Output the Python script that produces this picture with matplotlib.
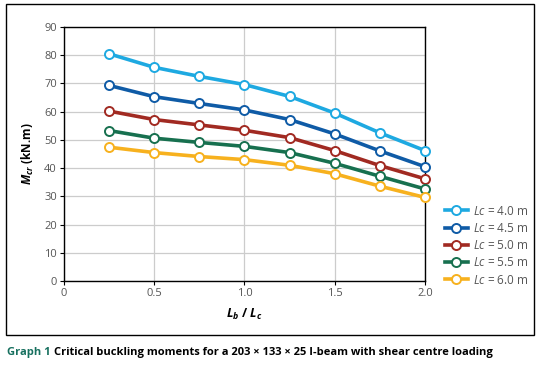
import numpy as np
import matplotlib
matplotlib.use('Agg')
import matplotlib.pyplot as plt
from matplotlib.patches import Rectangle

plt.rcParams['font.family'] = ['Open Sans', 'DejaVu Sans']
plt.rcParams['mathtext.fontset'] = 'custom'
plt.rcParams['mathtext.rm'] = 'Open Sans'
plt.rcParams['mathtext.it'] = 'Open Sans:italic'
plt.rcParams['mathtext.bf'] = 'Open Sans:bold'
plt.rcParams['mathtext.bfit'] = 'Open Sans:italic:bold'

# data
lb_lc = [0.25, 0.5, 0.75, 1.0, 1.25, 1.5, 1.75, 2.0]
lc_labels = ['4.0', '4.5', '5.0', '5.5', '6.0']
m_40 = [80.5, 75.7, 72.5, 69.6, 65.4, 59.5, 52.5, 46.2]
m_45 = [69.3, 65.3, 62.9, 60.6, 57.2, 52.1, 46.1, 40.5]
m_50 = [60.2, 57.2, 55.3, 53.4, 50.8, 46.2, 40.9, 36.2]
m_55 = [53.3, 50.6, 49.1, 47.7, 45.5, 41.7, 37.1, 32.6]
m_60 = [47.4, 45.5, 44.1, 43.0, 41.0, 38.0, 33.6, 29.6]
series = [m_40, m_45, m_50, m_55, m_60]
colors = ['#1ea9e1', '#0f5ba6', '#a12a22', '#17704f', '#f7b11e']

fig = plt.figure(figsize=(5.4, 3.65), dpi=100)

# outer frame around the chart
fig.patches.append(Rectangle((6/540, 1-335/365), 528/540, 331/365, transform=fig.transFigure,
                             fill=False, edgecolor='black', linewidth=1.0))

ax = fig.add_axes([64/540, 1-281/365, 361/540, 254/365])
for vals, c, lab in zip(series, colors, lc_labels):
    ax.plot(lb_lc, vals, color=c, lw=2.6, marker='o', ms=6.5, mfc='white', mec=c, mew=1.4,
            label=r'$\it{Lc}$ = ' + lab + ' m', clip_on=False, zorder=3)

ax.set_xlim(0, 2)
ax.set_ylim(0, 90)
ax.set_xticks([0, 0.5, 1.0, 1.5, 2.0])
ax.set_xticklabels(['0', '0.5', '1.0', '1.5', '2.0'])
ax.set_yticks(np.arange(0, 91, 10))
ax.grid(True, color='#cccccc', lw=0.9)
ax.set_axisbelow(True)
for s in ax.spines.values():
    s.set_color('black')
    s.set_linewidth(1.0)
ax.tick_params(labelsize=8, labelcolor='#555555', length=3, width=0.8, pad=2)

ax.set_ylabel(r'$\mathbfit{M_{cr}}$ (kN.m)', fontsize=8.5, fontweight='bold', labelpad=6)
ax.set_xlabel(r'$\mathbfit{L_b}$ / $\mathbfit{L_c}$', fontsize=9, fontweight='bold', labelpad=6)

ax.legend(loc='upper left', bbox_to_anchor=(434/540, 1-194/365), bbox_transform=fig.transFigure,
          frameon=False, fontsize=8.5, handlelength=2.0, handletextpad=0.4, labelspacing=0.36,
          labelcolor='#555555')

cap_y = 1 - 352/365
capfam = ['Open Sans', 'DejaVu Sans']
t1 = fig.text(7/540, cap_y, 'Graph 1', color='#17705f', fontsize=8.0, fontweight='bold',
              va='center', family=capfam)
fig.canvas.draw()
bb = t1.get_window_extent()
fig.text(bb.x1/540 + 3/540, cap_y,
         'Critical buckling moments for a 203 \u00d7 133 \u00d7 25 I-beam with shear centre loading',
         color='black', fontsize=8.0, fontweight='bold', va='center', family=capfam)

fig.savefig('out.png', dpi=100)
